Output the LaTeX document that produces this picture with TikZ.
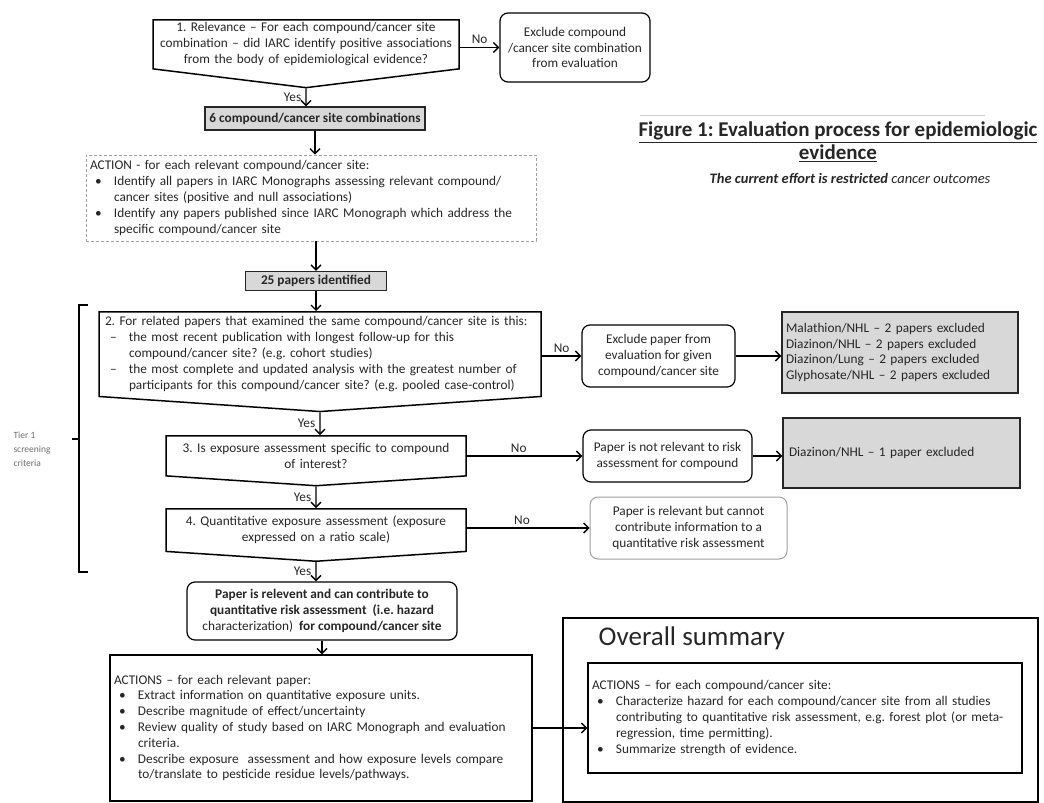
\documentclass[tikz,border=0pt]{standalone}
\usepackage{fontspec}
\setmainfont{Carlito}
\usepackage{xcolor}
\usetikzlibrary{arrows.meta,shapes.symbols,positioning}

\definecolor{boxfill}{HTML}{D8D8D8}
\definecolor{faintline}{HTML}{A0A0A0}
\definecolor{ink}{HTML}{262626}
\definecolor{tierink}{HTML}{6E6E6E}

\frenchspacing
% bullet line with hanging indent
\newcommand{\bitem}[2][\textbullet]{\par\hangindent=24pt\hangafter=1\noindent\makebox[24pt][l]{\hspace{5pt}#1}#2\par}

\begin{document}
\begin{tikzpicture}[x=1pt, y=-1pt, font=\fontsize{13.3}{15.8}\selectfont, text=ink,
    decision/.style={signal, signal to=south, draw=black, line width=1.5pt, align=center, inner xsep=4pt, inner ysep=4pt},
    roundbox/.style={rectangle, rounded corners=8pt, draw=black, line width=1.2pt, align=center, inner sep=3pt},
    greybox/.style={rectangle, draw=black!85, line width=1.1pt, fill=boxfill},
    listbox/.style={rectangle, draw=black, line width=1.2pt, align=left, inner xsep=4pt},
    arr/.style={line width=1.4pt, -{Straight Barb[length=5pt, width=10pt, line width=1.4pt]}},
    yeslabel/.style={left, inner sep=4pt},
    nolabel/.style={above, inner sep=3pt}]
\useasboundingbox (0,0) rectangle (1044,803);

% title
\draw[faintline!50, line width=0.8pt] (640,115) -- (985,115);
\node[align=center, font=\fontsize{21}{23}\selectfont\bfseries] (title) at (838,142) {\underline{Figure 1: Evaluation process for epidemiologic}\\\underline{evidence}};
\node[font=\fontsize{14.5}{16}\selectfont\itshape] (subtitle) at (850,178) {{\bfseries The current effort is restricted} cancer outcomes};

% main column
\node[decision, signal pointer angle=166, text width=298pt, inner ysep=3pt, anchor=north] (relevance) at (306,19) {1. Relevance -- For each compound/cancer site\\combination -- did IARC identify positive associations\\from the body of epidemiological evidence?};
\node[roundbox, minimum width=150pt, minimum height=69pt] (exclcomb) at (575,47.5) {Exclude compound\\/cancer site combination\\from evaluation};
\node[greybox, minimum width=220pt, minimum height=23pt] (combos) at (315,118.5) {\bfseries 6 compound/cancer site combinations};
\node[listbox, draw=faintline, line width=0.7pt, densely dashed, text width=442pt, minimum height=86pt] (action) at (311,198) {ACTION - for each relevant compound/cancer site:\bitem{Identify all papers in IARC Monographs assessing relevant compound/\newline cancer sites (positive and null associations)}\bitem{Identify any papers published since IARC Monograph which address the\newline specific compound/cancer site}};
\node[greybox, minimum width=141pt, minimum height=19pt, inner sep=1pt] (papers) at (316,281) {\bfseries 25 papers identified};

\node[decision, signal pointer angle=172.2, text width=430pt, align=left, inner xsep=6pt, inner ysep=5pt, anchor=north] (related) at (320,311) {2. For related papers that examined the same compound/cancer site is this:\bitem[--]{the most recent publication with longest follow-up for this\newline compound/cancer site? (e.g. cohort studies)}\bitem[--]{the most complete and updated analysis with the greatest number of\newline participants for this compound/cancer site? (e.g. pooled case-control)}};
\node[roundbox, minimum width=153pt, minimum height=62pt] (exclpaper) at (658.5,356) {Exclude paper from\\evaluation for given\\compound/cancer site};
\node[greybox, text width=228pt, minimum height=81pt, align=left, inner xsep=4pt] (excluded) at (900,352.5) {Malathion/NHL -- 2 papers excluded\\Diazinon/NHL -- 2 papers excluded\\Diazinon/Lung -- 2 papers excluded\\Glyphosate/NHL -- 2 papers excluded};

\node[decision, signal pointer angle=172.5, text width=290pt, inner xsep=5pt, inner ysep=7.5pt, anchor=north] (specific) at (316,435) {3. Is exposure assessment specific to compound\\of interest?};
\node[roundbox, minimum width=169pt, minimum height=52pt] (notrel) at (667.5,456) {Paper is not relevant to risk\\assessment for compound};
\node[greybox, text width=225pt, minimum height=70pt, align=left, inner xsep=6pt] (excludedone) at (901.5,453) {Diazinon/NHL -- 1 paper excluded};

\node[decision, signal pointer angle=172.5, text width=290pt, inner xsep=5pt, inner ysep=7.5pt, anchor=north] (quant) at (316,508) {4. Quantitative exposure assessment (exposure\\expressed on a ratio scale)};
\node[roundbox, draw=faintline, line width=1pt, minimum width=197pt, minimum height=62pt] (nocontrib) at (688.5,528) {Paper is relevant but cannot\\contribute information to a\\quantitative risk assessment};

\node[roundbox, minimum width=270pt, minimum height=58pt] (relevant) at (322,611) {\textbf{Paper is relevent and can contribute to}\\\textbf{quantitative risk assessment \ (i.e. hazard}\\characterization) \ \textbf{for compound/cancer site}};
\node[listbox, text width=414pt, minimum height=146pt] (actions) at (321,728) {ACTIONS -- for each relevant paper:\bitem{Extract information on quantitative exposure units.}\bitem{Describe magnitude of effect/uncertainty}\bitem{Review quality of study based on IARC Monograph and evaluation\newline criteria.}\bitem{Describe exposure \ assessment and how exposure levels compare\newline to/translate to pesticide residue levels/pathways.}};

% overall summary
\node[rectangle, draw=black, line width=1.6pt, minimum width=475pt, minimum height=184pt] (summary) at (800.5,710) {};
\node[font=\fontsize{27}{32}\selectfont, below right=6pt and 33pt of summary.north west] (summarytitle) {Overall summary};
\node[listbox, text width=426pt, minimum height=110pt] (summaryactions) at (805,718) {ACTIONS -- for each compound/cancer site:\bitem{Characterize hazard for each compound/cancer site from all studies\newline contributing to quantitative risk assessment, e.g. forest plot (or meta-\newline regression, time permitting).}\bitem{Summarize strength of evidence.}};

% tier bracket
\draw[line width=1.6pt] (88,305) -- (79,305) -- (79,572) -- (88,572);
\draw[line width=1.6pt] (79,439) -- (72,439);
\node[align=left, text=tierink, font=\fontsize{9.5}{14}\selectfont, anchor=north west] (tier) at (10,428) {Tier 1\\screening\\criteria};

% connectors
\draw[arr] (relevance) -- node[yeslabel] {Yes} (relevance |- combos.north);
\draw[arr] (relevance.east |- exclcomb) -- node[nolabel] {No} (exclcomb);
\draw[arr] (combos) -- (combos |- action.north);
\draw[arr] (action.south -| papers) -- (papers);
\draw[arr] (papers) -- (papers |- related.north);
\draw[arr] (related) -- node[yeslabel] {Yes} (related |- specific.north);
\draw[arr] (related.east |- exclpaper) -- node[nolabel] {No} (exclpaper);
\draw[arr] (exclpaper) -- (exclpaper -| excluded.west);
\draw[arr] (specific) -- node[yeslabel] {Yes} (specific |- quant.north);
\draw[arr] (specific.east |- notrel) -- node[nolabel, pos=0.45] {No} (notrel);
\draw[arr] (notrel) -- (notrel -| excludedone.west);
\draw[arr] (quant) -- node[yeslabel] {Yes} (quant |- relevant.north);
\draw[arr] (quant.east |- nocontrib) -- node[nolabel, pos=0.45] {No} (nocontrib);
\draw[arr] (relevant) -- (relevant |- actions.north);
\draw[arr] (actions) -- (actions -| summaryactions.west);
\end{tikzpicture}
\end{document}
